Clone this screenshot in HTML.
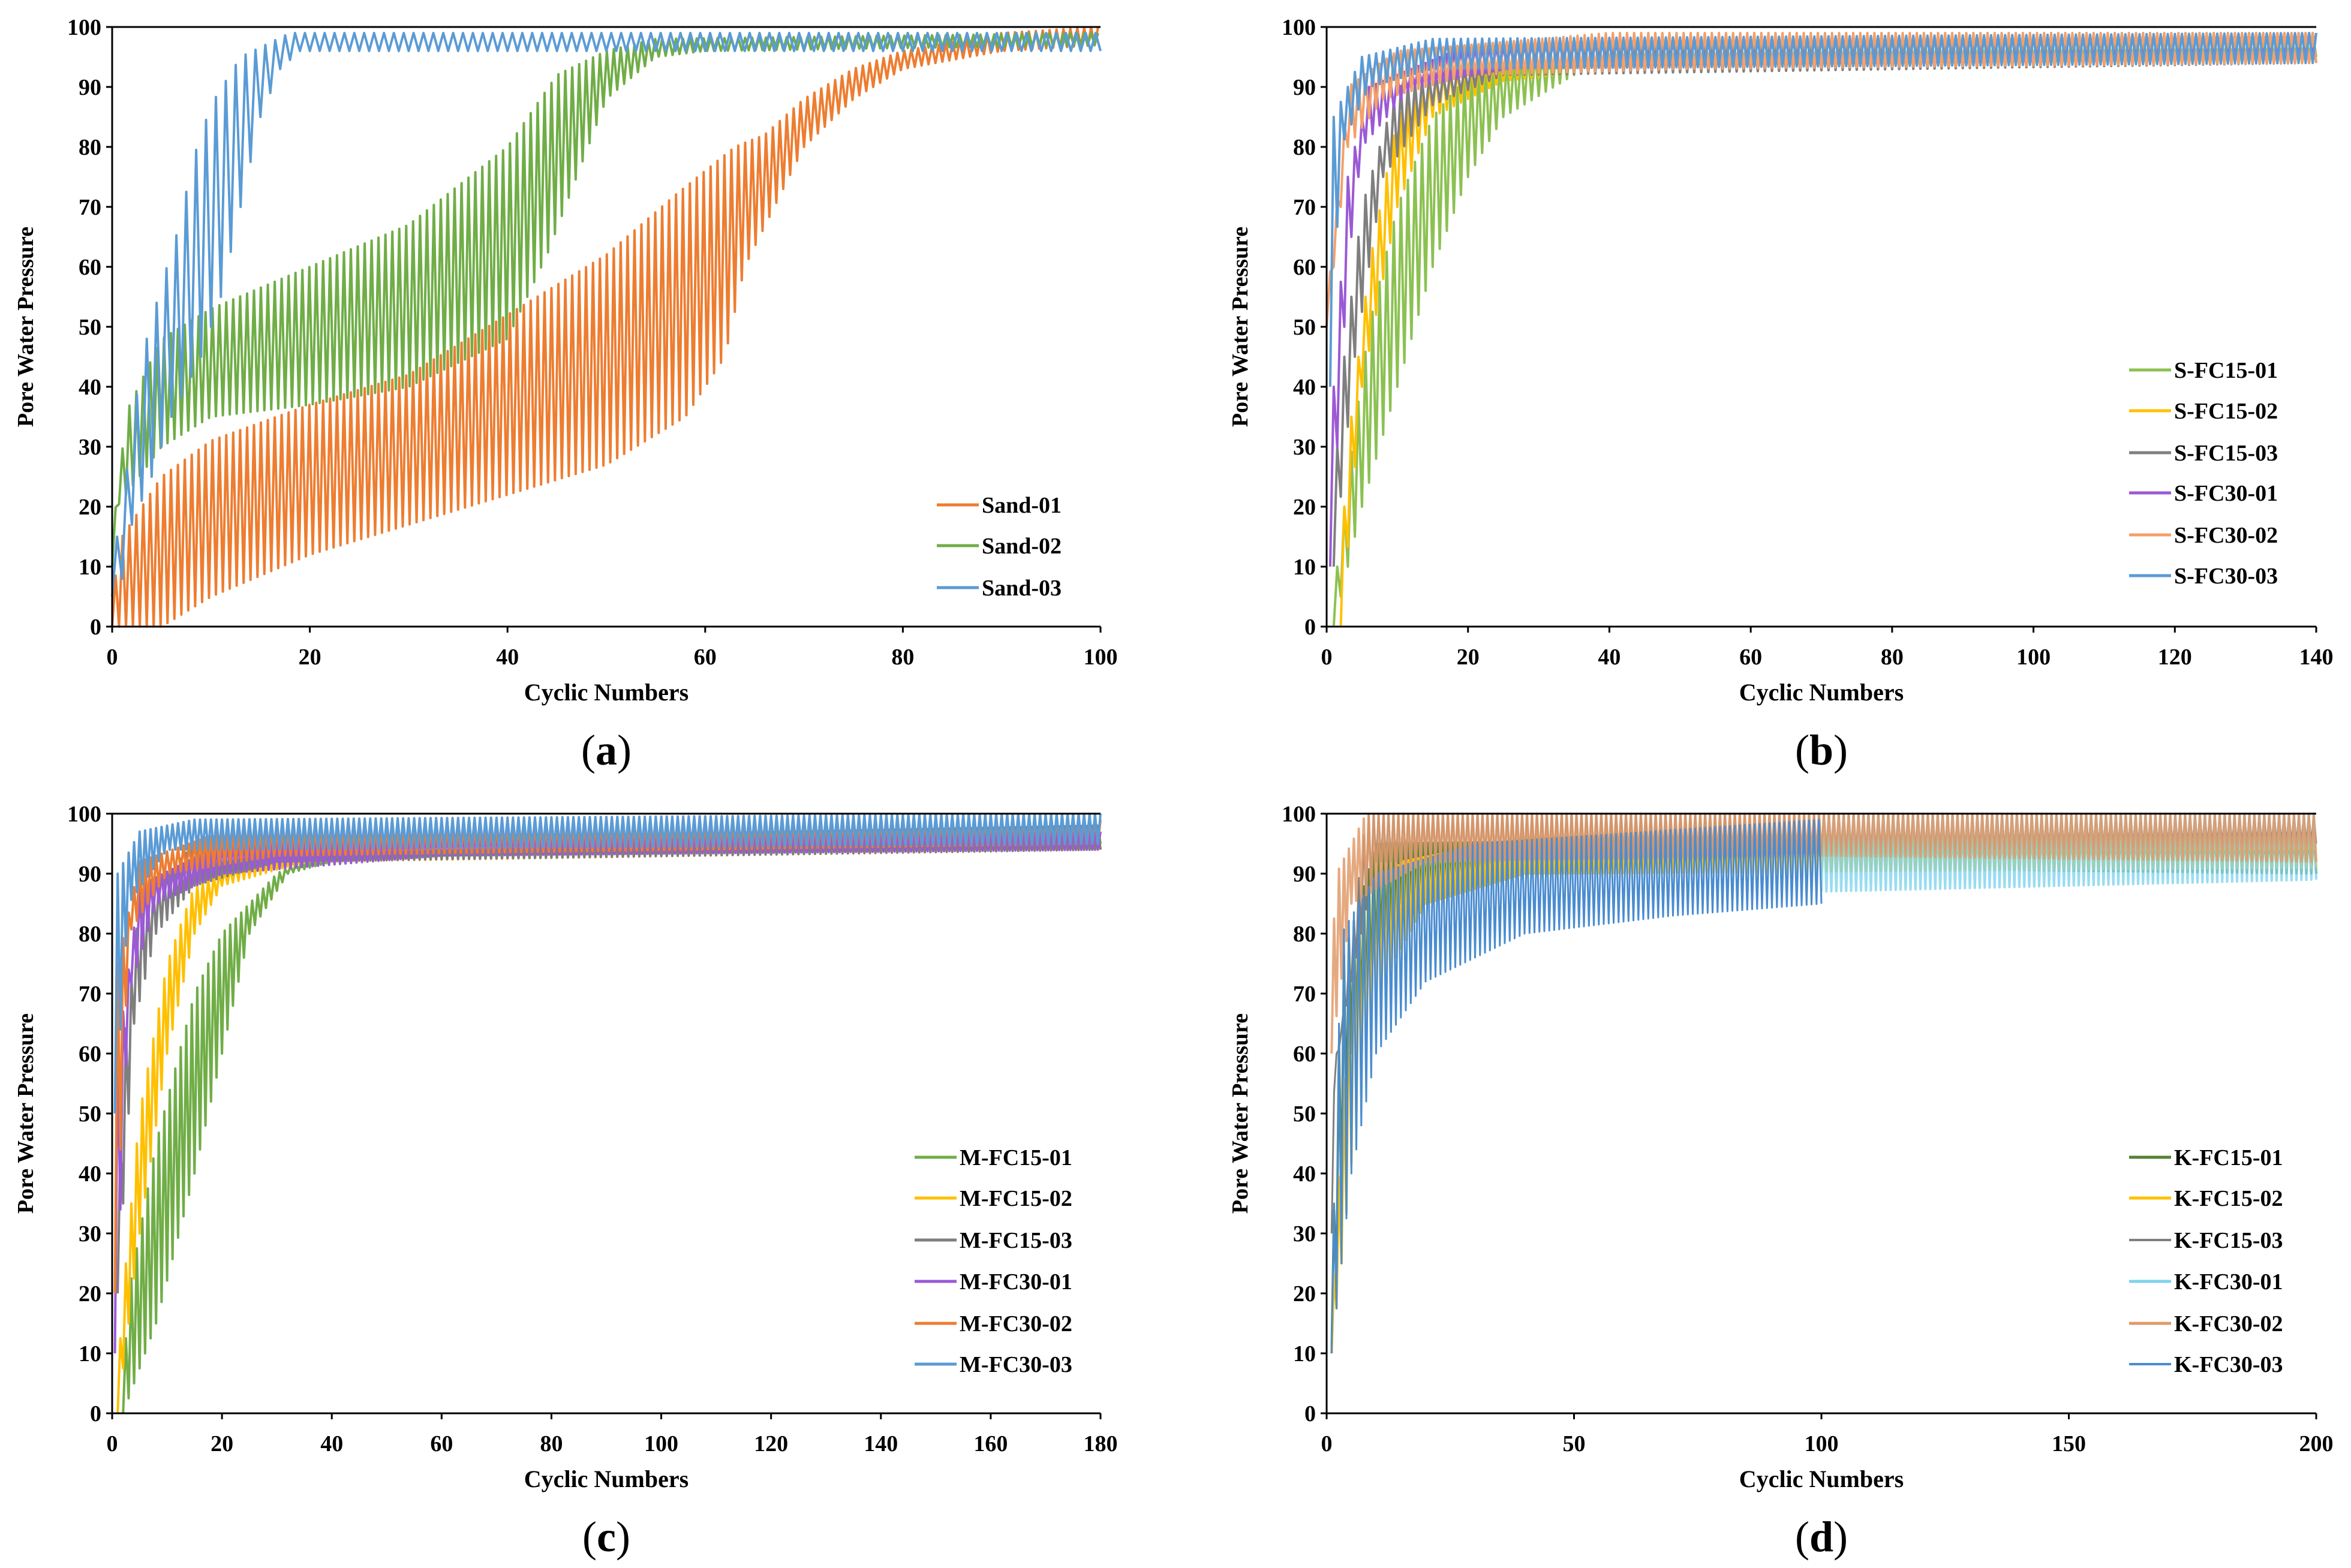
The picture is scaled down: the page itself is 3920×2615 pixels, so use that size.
<!DOCTYPE html>
<html><head><meta charset="utf-8"><style>
html,body{margin:0;padding:0;background:#fff;}
svg{display:block;}
text{font-family:"Liberation Serif",serif;}
</style></head>
<body>
<svg id="fig" xmlns="http://www.w3.org/2000/svg" width="3920" height="2615" viewBox="0 0 3920 2615"></svg>
<script>
// ---------- DATA (envelope points: [cycle, value]) ----------
const panelLabels = ["a","b","c","d"];
const xMaxes = [100,140,180,200];
const xTickSteps = [20,20,20,50];
const yTicks = [0,10,20,30,40,50,60,70,80,90,100];

// Panel (a)
const sand01Names = ["Sand-01","Sand-02","Sand-03"];
const sand01Lower = [[0,0],[5,0],[10,5],[20,12],[30,17],[40,22],[50,27],[58,35],[62,45],[64,60],[67,70],[70,80],[75,88],[80,93],[90,96],[100,97]];
const sand01Upper = [[0,5],[1,15],[5,25],[10,31],[20,37],[30,42],[40,52],[50,62],[57,72],[63,80],[66,82],[70,88],[75,93],[80,96],[90,99],[100,100]];
const sand02Lower = [[0,10],[0.5,20],[5,30],[10,35],[20,37],[30,40],[40,48],[44,62],[47,75],[50,88],[55,95],[60,96],[100,97]];
const sand02Upper = [[0,15],[1.5,36],[5,48],[10,53],[20,60],[30,67],[40,80],[45,92],[50,96],[55,98],[100,99]];
const sand03Lower = [[0,5],[1,8],[2,17],[4,25],[6,35],[9,45],[11,55],[13,70],[15,85],[17,93],[19,96],[100,96]];
const sand03Upper = [[0,10],[1,20],[3,45],[5,57],[7,68],[8,77],[10,87],[13,95],[18,99],[100,99]];

// Panel (b)
const sNames = ["S-FC15-01","S-FC15-02","S-FC15-03","S-FC30-01","S-FC30-02","S-FC30-03"];
const sfc1501Lower = [[1,0],[5,20],[10,40],[15,60],[20,75],[25,85],[35,92],[40,94],[140,95]];
const sfc1501Upper = [[1,5],[3,25],[6,50],[10,70],[15,85],[20,92],[30,96],[40,98],[140,99]];
const sfc1502Lower = [[2,0],[5,40],[10,70],[15,85],[25,91],[40,93],[140,94]];
const sfc1502Upper = [[2,10],[3,30],[6,60],[10,85],[15,92],[30,96],[140,98]];
const sfc1503Lower = [[1,10],[4,45],[8,75],[15,87],[25,92],[140,94]];
const sfc1503Upper = [[1,20],[2,40],[5,70],[10,90],[30,97],[140,99]];
const sfc3001Lower = [[0.5,10],[3,60],[5,80],[12,90],[30,94],[140,95]];
const sfc3001Upper = [[0.5,20],[1,40],[3,75],[6,90],[20,97],[140,99]];
const sfc3002Lower = [[0,50],[3,80],[8,88],[20,92],[50,93],[140,94]];
const sfc3002Upper = [[0,53],[3,90],[10,96],[40,99],[140,99]];
const sfc3003Lower = [[0.5,40],[2,80],[6,90],[15,93],[140,94]];
const sfc3003Upper = [[0.5,50],[1,85],[5,95],[15,98],[140,99]];

// Panel (c)
const mNames = ["M-FC15-01","M-FC15-02","M-FC15-03","M-FC30-01","M-FC30-02","M-FC30-03"];
const mfc1501Lower = [[2,0],[8,15],[15,40],[20,60],[25,80],[32,90],[40,92],[100,94],[180,95]];
const mfc1501Upper = [[2,5],[3,20],[8,45],[15,70],[20,80],[30,90],[40,95],[180,98]];
const mfc1502Lower = [[1,0],[5,30],[10,60],[15,80],[20,88],[35,92],[180,94]];
const mfc1502Upper = [[1,5],[2,20],[5,50],[10,75],[15,88],[30,95],[180,98]];
const mfc1503Lower = [[1,20],[4,65],[8,80],[15,88],[30,92],[180,94]];
const mfc1503Upper = [[1,30],[2,60],[5,85],[15,95],[180,98]];
const mfc3001Lower = [[0.5,10],[3,70],[8,85],[20,90],[60,93],[180,94]];
const mfc3001Upper = [[0.5,20],[1,60],[5,88],[20,95],[180,97]];
const mfc3002Lower = [[0.5,20],[3,80],[10,90],[30,93],[180,95]];
const mfc3002Upper = [[0.5,30],[1,75],[5,92],[20,97],[180,99]];
const mfc3003Lower = [[0.5,50],[3,85],[10,94],[180,95]];
const mfc3003Upper = [[0.5,60],[1,90],[5,97],[15,99],[180,100]];

// Panel (d)
const kNames = ["K-FC15-01","K-FC15-02","K-FC15-03","K-FC30-01","K-FC30-02","K-FC30-03"];
const kfc1501Lower = [[1,10],[5,60],[15,85],[30,90],[100,91],[200,90]];
const kfc1501Upper = [[1,20],[3,75],[10,95],[200,97]];
const kfc1502Lower = [[1,10],[3,25],[6,50],[10,70],[20,85],[40,90],[200,91]];
const kfc1502Upper = [[1,15],[5,80],[15,92],[40,96],[200,97]];
const kfc1503Lower = [[1,30],[2,60],[10,92],[200,95]];
const kfc1503Upper = [[1,50],[8,100],[200,100]];
const kfc3001Lower = [[100,87],[200,89]];
const kfc3001Upper = [[100,99],[200,100]];
const kfc3002Lower = [[1,60],[5,85],[20,92],[100,93],[200,92]];
const kfc3002Upper = [[1,75],[2,90],[8,100],[200,100]];
const kfc3003Lower = [[1,10],[5,40],[10,60],[20,72],[40,80],[70,83],[100,85]];
const kfc3003Upper = [[1,20],[3,80],[10,90],[30,95],[100,99]];

// ---------- STYLE / LAYOUT ----------
const panels = [
 {x0:187,x1:1835,y0:45,y1:1045, periods:[0.7,0.7,1.0], names:sand01Names,
  lows:[sand01Lower,sand02Lower,sand03Lower], ups:[sand01Upper,sand02Upper,sand03Upper],
  colors:["#ED7D31","#70AD47","#5B9BD5"], widths:[4,4,4], order:[0,1,2], opac:[1,1,1],
  legX:1562, legY:[842,910,980]},
 {x0:2212,x1:3862,y0:45,y1:1045, periods:[1,1,1,1,1,1], names:sNames,
  lows:[sfc1501Lower,sfc1502Lower,sfc1503Lower,sfc3001Lower,sfc3002Lower,sfc3003Lower],
  ups:[sfc1501Upper,sfc1502Upper,sfc1503Upper,sfc3001Upper,sfc3002Upper,sfc3003Upper],
  colors:["#8CC152","#FFC000","#7F7F7F","#9B59D6","#F4A06B","#5B9BD5"], widths:[4,4,4,4,4,4], order:[0,1,2,3,4,5], opac:[1,1,1,1,1,1],
  legX:3550, legY:[617,685,755,822,892,960]},
 {x0:187,x1:1835,y0:1357,y1:2357, periods:[1,1,1,1,1,1], names:mNames,
  lows:[mfc1501Lower,mfc1502Lower,mfc1503Lower,mfc3001Lower,mfc3002Lower,mfc3003Lower],
  ups:[mfc1501Upper,mfc1502Upper,mfc1503Upper,mfc3001Upper,mfc3002Upper,mfc3003Upper],
  colors:["#70AD47","#FFC000","#7F7F7F","#9B59D6","#ED7D31","#5B9BD5"], widths:[4,4,4,4,4,4], order:[0,1,2,3,4,5], opac:[1,1,1,1,1,1],
  legX:1525, legY:[1930,1998,2068,2137,2207,2275]},
 {x0:2212,x1:3862,y0:1357,y1:2357, periods:[1,1,1,1,1,1], names:kNames,
  lows:[kfc1501Lower,kfc1502Lower,kfc1503Lower,kfc3001Lower,kfc3002Lower,kfc3003Lower],
  ups:[kfc1501Upper,kfc1502Upper,kfc1503Upper,kfc3001Upper,kfc3002Upper,kfc3003Upper],
  colors:["#548235","#FFC000","#7F7F7F","#7FD3EE","#E09A6A","#4A8CD0"], widths:[4,4,3,4,4,3], order:[0,1,2,3,4,5], opac:[1,1,1,0.8,0.85,1],
  legX:3550, legY:[1930,1998,2068,2137,2207,2275]}
];

const NS="http://www.w3.org/2000/svg";
const svg=document.getElementById('fig');
function mk(tag,attrs,parent){const e=document.createElementNS(NS,tag);for(const k in attrs)e.setAttribute(k,attrs[k]);(parent||svg).appendChild(e);return e;}
function interp(env,x){
  if(x<=env[0][0])return env[0][1];
  for(let i=1;i<env.length;i++){if(x<=env[i][0]){const a=env[i-1],b=env[i];return a[1]+(b[1]-a[1])*(x-a[0])/(b[0]-a[0]);}}
  return env[env.length-1][1];
}

panels.forEach((p,pi)=>{
  const xMax=xMaxes[pi];
  const g=mk('g',{});
  
  
  const sx=v=>p.x0+(p.x1-p.x0)*v/xMax;
  const sy=v=>p.y1-(p.y1-p.y0)*v/100;
  p.order.forEach(si=>{
    const lo=p.lows[si], up=p.ups[si], per=p.periods[si];
    const xs=Math.min(lo[0][0],up[0][0]), xe=Math.min(lo[lo.length-1][0],up[up.length-1][0],xMax);
    let d='';let k=0;
    for(let x=xs;x<=xe+1e-9;x+=per/2){
      const v=(k%2===0)?interp(lo,x):interp(up,x);
      d+=(k===0?'M':'L')+sx(x).toFixed(1)+' '+sy(Math.max(0,Math.min(100,v))).toFixed(1);k++;
    }
    const path=mk('path',{d:d,fill:'none',stroke:p.colors[si],'stroke-width':p.widths[si],'stroke-opacity':p.opac[si],'stroke-linejoin':'round'},g);
    
    
  });
  const ax=mk('g',{},g);
  
  
  mk('line',{x1:p.x0,y1:p.y0,x2:p.x1,y2:p.y0,stroke:'#000','stroke-width':3},ax);
  mk('line',{x1:p.x0,y1:p.y0,x2:p.x0,y2:p.y1,stroke:'#000','stroke-width':3},ax);
  mk('line',{x1:p.x0,y1:p.y1,x2:p.x1,y2:p.y1,stroke:'#000','stroke-width':3},ax);
  yTicks.forEach(t=>{
    mk('line',{x1:p.x0-10,y1:sy(t),x2:p.x0,y2:sy(t),stroke:'#000','stroke-width':3},ax);
    const tx=mk('text',{x:p.x0-18,y:sy(t)+13,'text-anchor':'end','font-size':38,'font-weight':'bold'},ax);
    tx.textContent=t;
    
    
  });
  for(let t=0;t<=xMax;t+=xTickSteps[pi]){
    mk('line',{x1:sx(t),y1:p.y1,x2:sx(t),y2:p.y1+10,stroke:'#000','stroke-width':3},ax);
    const tx=mk('text',{x:sx(t),y:p.y1+63,'text-anchor':'middle','font-size':38,'font-weight':'bold'},ax);
    tx.textContent=t;
    
    
  }
  const xt=mk('text',{x:(p.x0+p.x1)/2,y:p.y1+123,'text-anchor':'middle','font-size':40,'font-weight':'bold'},g);
  xt.textContent='Cyclic Numbers';
  
  
  const ycx=p.x0-132, ycy=(p.y0+p.y1)/2;
  const yt=mk('text',{x:ycx,y:ycy,'text-anchor':'middle','font-size':38,'font-weight':'bold',transform:'rotate(-90 '+ycx+' '+ycy+')','xml:space':'preserve'},g);
  yt.textContent='Pore  Water Pressure';
  
  
  const cap=mk('text',{x:(p.x0+p.x1)/2,y:p.y1+230,'text-anchor':'middle','font-size':72},g);
  cap.innerHTML='(<tspan font-weight="bold">'+panelLabels[pi]+'</tspan>)';
  
  
  const lg=mk('g',{},g);
  
  
  p.names.forEach((n,si)=>{
    const y=p.legY[si];
    mk('line',{x1:p.legX,y1:y,x2:p.legX+70,y2:y,stroke:p.colors[si],'stroke-width':p.widths[si]+1},lg);
    const t=mk('text',{x:p.legX+75,y:y+13,'font-size':38,'font-weight':'bold'},lg);
    t.textContent=n;
    
    
  });
});
</script>
</body></html>
